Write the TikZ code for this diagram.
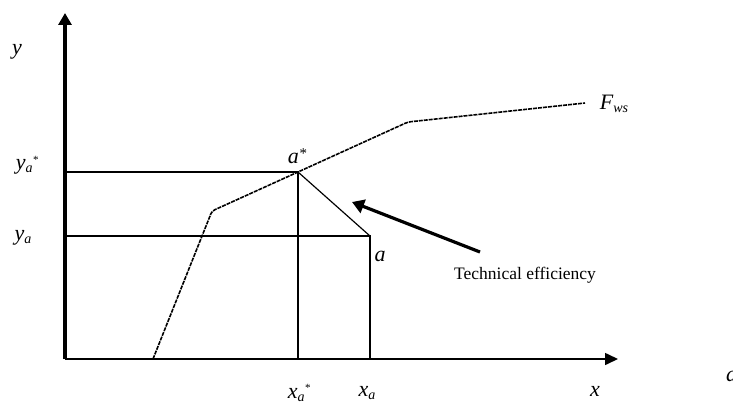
\documentclass[tikz,border=0pt]{standalone}
\usepackage{fontspec}
\setmainfont{Liberation Serif}
\usetikzlibrary{arrows.meta}
\newcommand{\sbit}[1]{\raisebox{-0.3ex}{\fontsize{14}{14}\selectfont\textit{#1}}}
\newcommand{\astk}{\raisebox{0.45ex}{\fontsize{15}{15}\selectfont *}}
\newcommand{\sastk}{\raisebox{0.6ex}{\fontsize{11}{11}\selectfont *}}
\begin{document}
\begin{tikzpicture}[x=1pt,y=-1pt,
  thin line/.style={line width=1.6pt},
  axis line/.style={line width=1.6pt,-{Triangle[length=13pt,width=12pt]}},
  frontier/.style={line width=1.6pt,dash pattern=on 4pt off 1pt},
  lbl/.style={inner sep=0pt,font=\fontsize{22}{22}\selectfont\itshape},
  small lbl/.style={inner sep=0pt,font=\fontsize{17.5}{17.5}\selectfont}]
\useasboundingbox (0,0) rectangle (733,404);
% coordinates
\coordinate (O) at (65,359);
\coordinate (ytop) at (65,13);
\coordinate (xtip) at (618,359);
\coordinate (f0) at (153,359);
\coordinate (k1) at (212,211);
\coordinate (astar) at (298,172);
\coordinate (k2) at (408,122);
\coordinate (fend) at (585,103);
\coordinate (a) at (370,236);
\coordinate (ya) at (65,236);
\coordinate (yas) at (65,172);
\coordinate (xas) at (298,359);
\coordinate (xa) at (370,359);
\coordinate (ts) at (480,252);
\coordinate (te) at (352,202);
% axes
\draw[line width=3.2pt,-{Triangle[length=12pt,width=13pt]}] (O) -- (ytop);
\draw[axis line] (O) -- (xtip);
% frontier
\draw[frontier,rounded corners=3pt] (f0) -- (k1) -- (astar) -- (k2) -- (fend);
% guides
\draw[thin line] (yas) -- (astar) -- (xas);
\draw[thin line] (ya) -- (a) -- (xa);
\draw[line width=1.2pt] (astar) -- (a);
% arrow
\draw[line width=3.2pt,-{Triangle[length=12pt,width=14pt]}] (ts) -- (te);
% labels
\node[lbl] (ly) at (17,52) {y};
\node[lbl] (lyas) at (27,165) {y\sbit{a}\sastk};
\node[lbl] (lya) at (23,238) {y\sbit{a}};
\node[lbl] (las) at (297,156) {a\astk};
\node[lbl] (la) at (380,256) {a};
\node[lbl] (lF) at (614,104) {F\sbit{ws}};
\node[small lbl] (lte) at (525,275) {Technical efficiency};
\node[lbl] (lx) at (595,391) {x};
\node[lbl] (lxas) at (299,393) {x\sbit{a}\sastk};
\node[lbl] (lxa) at (367,393) {x\sbit{a}};
\node[lbl,anchor=west] (lcut) at (726,376) {a};
\end{tikzpicture}
\end{document}
